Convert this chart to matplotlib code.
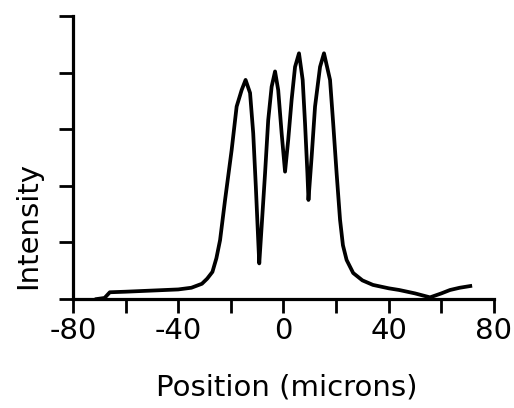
import matplotlib
matplotlib.use("Agg")
import matplotlib.pyplot as plt

# beam profile across the sample
position = [-71, -68, -66, -60, -50, -40, -35, -31, -29, -27, -25.5, -24.1,
            -22.2, -19.7, -17.8, -15.9, -14.4, -12.7, -11.5, -10.5, -9.6,
            -9.2, -8.3, -7.0, -5.8, -4.5, -3.2, -2.0, -0.7, 0.6, 1.8, 3.1,
            4.4, 5.9, 7.3, 8.2, 9.1, 9.5, 10.7, 12.0, 13.9, 15.4, 17.7, 18.9,
            20.2, 21.5, 22.6, 24.0, 26.5, 30, 34, 40, 44, 50, 55.7, 60, 63.3,
            67, 71]
intensity = [0.0, 0.02, 0.12, 0.13, 0.15, 0.17, 0.2, 0.27, 0.36, 0.48, 0.72,
             1.04, 1.75, 2.63, 3.4, 3.69, 3.87, 3.64, 2.93, 1.98, 1.04, 0.63,
             1.28, 2.22, 3.16, 3.75, 4.02, 3.69, 2.93, 2.25, 2.81, 3.52, 4.1,
             4.34, 3.87, 3.1, 2.22, 1.75, 2.51, 3.4, 4.1, 4.34, 3.87, 3.1,
             2.22, 1.4, 0.95, 0.69, 0.46, 0.33, 0.25, 0.19, 0.16, 0.1, 0.03,
             0.1, 0.16, 0.2, 0.23]

xticks = [-80, -40, 0, 40, 80]
xminor = [-60, -20, 20, 60]
yticks = [0, 1, 2, 3, 4, 5]

plt.rcParams['font.family'] = 'DejaVu Sans'

fig = plt.figure(figsize=(5.14, 4.08), dpi=100)
ax = fig.add_axes([0.142, 0.267, 0.819, 0.694])

ax.plot(position, intensity, color='black', lw=2.7, solid_joinstyle='round')

ax.set_xlim(-80, 80)
ax.set_ylim(0, 5)
ax.set_xticks(xticks)
ax.set_xticklabels([str(t) for t in xticks])
ax.set_xticks(xminor, minor=True)
ax.set_yticks(yticks)
ax.set_yticklabels([])

for s in ['top', 'right']:
    ax.spines[s].set_visible(False)
for s in ['left', 'bottom']:
    ax.spines[s].set_linewidth(2.3)

ax.tick_params(axis='x', which='both', direction='out', length=10, width=2,
               labelsize=21, pad=3)
ax.tick_params(axis='y', direction='out', length=10, width=2)

ax.set_xlabel('Position (microns)', fontsize=21)
ax.xaxis.set_label_coords(0.508, -0.314)
ax.xaxis.label.set_va('center')
ax.set_ylabel('Intensity', fontsize=21)
ax.yaxis.set_label_coords(-0.107, 0.261)
ax.yaxis.label.set_va('center')

fig.savefig('out.png', dpi=100)
